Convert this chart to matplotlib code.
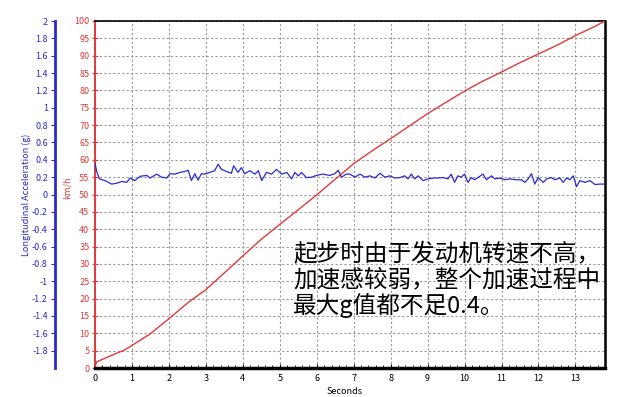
import matplotlib
matplotlib.use("Agg")
import matplotlib.pyplot as plt
import numpy as np

plt.rcParams['font.family'] = ['Noto Sans CJK SC', 'DejaVu Sans']

# speed curve (km/h)
speed_t = [0, 0.05, 0.4, 0.8, 1.0, 1.5, 2.0, 2.5, 3.0, 3.5, 4.0, 4.5, 5.0, 5.5,
           6.0, 6.5, 7.0, 7.5, 8.0, 8.5, 9.0, 9.5, 10.0, 10.5, 11.0, 11.5,
           12.0, 12.5, 13.0, 13.5, 13.8]
speed_v = [0.5, 1.8, 3.4, 5.2, 6.5, 9.9, 14.2, 18.7, 22.6, 27.4, 32.3, 37.1,
           41.4, 45.6, 49.9, 54.4, 58.9, 62.6, 66.1, 69.7, 73.3, 76.6, 79.8,
           82.7, 85.3, 88.0, 90.5, 93.0, 95.8, 98.3, 100.0]

# longitudinal acceleration (g)
acc_t = [0, 0.05, 0.12, 0.27, 0.45, 0.59, 0.72, 0.86, 0.95, 1.08, 1.22, 1.4,
         1.49, 1.67, 1.8, 1.94, 2.03, 2.16, 2.3, 2.43, 2.52, 2.61, 2.7, 2.79,
         2.88, 2.97, 3.11, 3.24, 3.33, 3.42, 3.56, 3.69, 3.75, 3.87, 3.96,
         4.05, 4.19, 4.33, 4.42, 4.51, 4.64, 4.78, 4.91, 5.05, 5.19, 5.32,
         5.41, 5.5, 5.59, 5.72, 5.86, 5.99, 6.17, 6.35, 6.49, 6.58, 6.67,
         6.8, 6.9, 7.03, 7.17, 7.3, 7.44, 7.57, 7.71, 7.84, 7.98, 8.11, 8.25,
         8.38, 8.47, 8.56, 8.65, 8.74, 8.88, 9.01, 9.15, 9.28, 9.42, 9.55,
         9.64, 9.73, 9.82, 9.91, 10.0, 10.09, 10.18, 10.27, 10.36, 10.5,
         10.59, 10.73, 10.82, 10.95, 11.09, 11.22, 11.4, 11.54, 11.63, 11.72,
         11.81, 11.9, 11.99, 12.13, 12.22, 12.35, 12.44, 12.58, 12.67, 12.76,
         12.85, 12.94, 13.03, 13.12, 13.26, 13.39, 13.53, 13.66, 13.8]
acc_g = [0.36, 0.26, 0.18, 0.16, 0.12, 0.13, 0.15, 0.14, 0.19, 0.16, 0.21,
         0.22, 0.19, 0.235, 0.2, 0.19, 0.24, 0.235, 0.255, 0.265, 0.28, 0.16,
         0.24, 0.165, 0.24, 0.235, 0.255, 0.275, 0.35, 0.29, 0.265, 0.245,
         0.33, 0.255, 0.31, 0.24, 0.275, 0.235, 0.275, 0.16, 0.255, 0.235,
         0.29, 0.235, 0.255, 0.18, 0.255, 0.215, 0.255, 0.195, 0.2, 0.22,
         0.235, 0.22, 0.24, 0.28, 0.2, 0.235, 0.235, 0.2, 0.235, 0.2,
         0.215, 0.19, 0.245, 0.2, 0.215, 0.19, 0.195, 0.215, 0.18, 0.235,
         0.18, 0.215, 0.16, 0.18, 0.19, 0.19, 0.195, 0.18, 0.235, 0.14, 0.215,
         0.2, 0.235, 0.14, 0.195, 0.17, 0.195, 0.235, 0.17, 0.215, 0.18,
         0.19, 0.17, 0.18, 0.17, 0.17, 0.14, 0.18, 0.24, 0.12, 0.195, 0.14,
         0.18, 0.195, 0.17, 0.19, 0.14, 0.19, 0.17, 0.215, 0.09, 0.16, 0.14,
         0.16, 0.115, 0.12, 0.12]

speed_ticks = list(range(0, 101, 5))
acc_ticks = [-1.8, -1.6, -1.4, -1.2, -1, -0.8, -0.6, -0.4, -0.2, 0, 0.2, 0.4,
             0.6, 0.8, 1, 1.2, 1.4, 1.6, 1.8, 2]
acc_labels = ['-1.8', '-1.6', '-1.4', '-1.2', '-1', '-0.8', '-0.6', '-0.4',
              '-0.2', '0', '0.2', '0.4', '0.6', '0.8', '1', '1.2', '1.4',
              '1.6', '1.8', '2']
sec_ticks = list(range(0, 14))

note = "起步时由于发动机转速不高，\n加速感较弱，整个加速过程中\n最大g值都不足0.4。"

RED = '#e03a3a'
BLUE = '#2a2ad0'

fig = plt.figure(figsize=(6.17, 3.97), dpi=100)
ax = fig.add_axes([95 / 617, 1 - 368 / 397, 510 / 617, 347 / 397])

ax.set_xlim(0, 13.8)
ax.set_ylim(0, 100)
ax.set_xticks(sec_ticks)
ax.set_xticks(np.arange(0, 13.81, 0.2), minor=True)
ax.set_yticks(speed_ticks)
ax.grid(True, which='major', color='#999999', linestyle=(0, (2, 2)), linewidth=0.8)
ax.set_axisbelow(True)

ax.tick_params(axis='x', which='major', labelsize=6.5, length=3, direction='in', pad=4)
ax.tick_params(axis='x', which='minor', length=2, direction='in')
ax.tick_params(axis='y', labelsize=6.5, colors=RED, length=4, direction='inout', pad=2)

ax.spines['left'].set_color(RED)
ax.spines['left'].set_linewidth(1.4)
ax.spines['left'].set_linestyle((0, (4, 1)))
ax.spines['bottom'].set_linewidth(2.5)
ax.spines['top'].set_linewidth(1.2)
ax.spines['right'].set_linewidth(1.8)

ax.set_xlabel('Seconds', fontsize=6.5, labelpad=2)
ax.xaxis.set_label_coords(0.49, -0.055)
ax.set_ylabel('km/h', fontsize=6.5, color=RED)
ax.yaxis.set_label_coords(-0.045, 0.52)

ax2 = ax.twinx()
ax2.set_ylim(-2, 2)
ax2.set_yticks(acc_ticks)
ax2.set_yticklabels(acc_labels)
ax2.spines['left'].set_position(('outward', 29))
ax2.spines['left'].set_visible(True)
ax2.spines['left'].set_color(BLUE)
ax2.spines['left'].set_linewidth(2)
ax2.spines['right'].set_visible(False)
ax2.spines['top'].set_visible(False)
ax2.spines['bottom'].set_visible(False)
ax2.yaxis.set_ticks_position('left')
ax2.yaxis.set_label_position('left')
ax2.tick_params(axis='y', labelsize=6.5, colors=BLUE, length=3, direction='out', pad=2)
ax2.set_ylabel('Longitudinal Acceleration (g)', fontsize=6.5, color=BLUE)
ax2.yaxis.set_label_coords(-0.125, 0.5)

ax2.plot(acc_t, acc_g, color=BLUE, linewidth=0.9)
ax.plot(speed_t, speed_v, color=RED, linewidth=1.0, zorder=5)

fig.text(293 / 617, 1 - 243 / 397, note, fontsize=17, color='black',
         ha='left', va='top', linespacing=1.1)

fig.savefig('out.png', dpi=100)
